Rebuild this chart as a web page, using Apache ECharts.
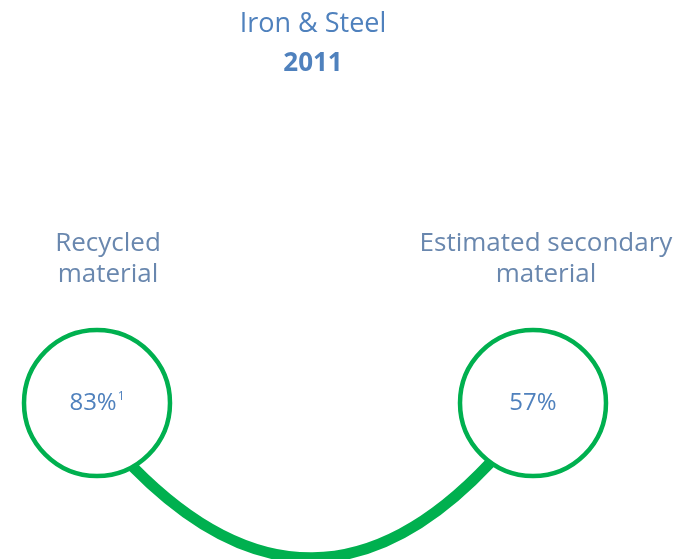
<!DOCTYPE html>
<html>
<head>
<meta charset="utf-8">
<script src="https://cdn.jsdelivr.net/npm/echarts@6/dist/echarts.min.js"></script>
<style>
    html, body { margin: 0; padding: 0; background: #fff; }
    #main { width: 691px; height: 559px; }
</style>
</head>
<body>
<div id="main"></div>
<script type="text/javascript">
    // data
    var names = ['Recycled\nmaterial', 'Estimated secondary\nmaterial'];
    var shares = ['83%', '57%'];
    var footnotes = ['1', ''];
    var nodeX = [97, 533];
    var nodeY = [403, 403];
    var linkFrom = [133, 467];
    var linkTo = [490, 463];

    var myChart = echarts.init(document.getElementById('main'));

    var nodes = names.map(function (n, i) {
        return { name: n, value: [nodeX[i], nodeY[i]], share: shares[i], note: footnotes[i] };
    });

    option = {
        backgroundColor: '#fff',
        animation: false,
        textStyle: { fontFamily: 'Open Sans' },
        title: {
            text: 'Iron & Steel',
            subtext: '2011',
            left: 308,
            textAlign: 'center',
            top: 6,
            itemGap: 13,
            textStyle: { color: '#4f81bd', fontSize: 27, fontWeight: 'normal', fontFamily: 'Open Sans' },
            subtextStyle: { color: '#4f81bd', fontSize: 26, fontWeight: 'bold', fontFamily: 'Open Sans' }
        },
        grid: { left: 0, right: 0, top: 0, bottom: 0 },
        xAxis: { type: 'value', min: 0, max: 691, show: false },
        yAxis: { type: 'value', min: 0, max: 559, inverse: true, show: false },
        series: [
            {
                type: 'lines',
                coordinateSystem: 'cartesian2d',
                silent: true,
                z: 1,
                lineStyle: { color: '#00b04f', width: 11, curveness: -0.52, opacity: 1 },
                data: [{ coords: [linkFrom, linkTo] }]
            },
            {
                type: 'scatter',
                silent: true,
                z: 3,
                symbolSize: 146,
                itemStyle: { color: '#fff', borderColor: '#00b04f', borderWidth: 4.5, opacity: 1 },
                label: {
                    show: true,
                    position: 'inside',
                    formatter: function (p) {
                        return p.data.share + (p.data.note ? '{sup|' + p.data.note + '}' : '');
                    },
                    color: '#4f81bd',
                    fontSize: 24,
                    fontFamily: 'Open Sans',
                    rich: {
                        sup: { fontSize: 12, color: '#4f81bd', verticalAlign: 'top', padding: [0, 0, 8, 1] }
                    }
                },
                data: nodes
            },
            {
                type: 'scatter',
                silent: true,
                z: 4,
                symbolSize: 146,
                itemStyle: { color: 'transparent' },
                label: {
                    show: true,
                    position: 'top',
                    distance: 40,
                    formatter: '{b}',
                    color: '#44699a',
                    fontSize: 26,
                    lineHeight: 31,
                    align: 'center',
                    fontFamily: 'Open Sans'
                },
                labelLayout: function (p) {
                    return { dx: p.dataIndex === 0 ? 11 : 13 };
                },
                data: nodes
            }
        ]
    };

    myChart.setOption(option);
</script>
</body>
</html>
